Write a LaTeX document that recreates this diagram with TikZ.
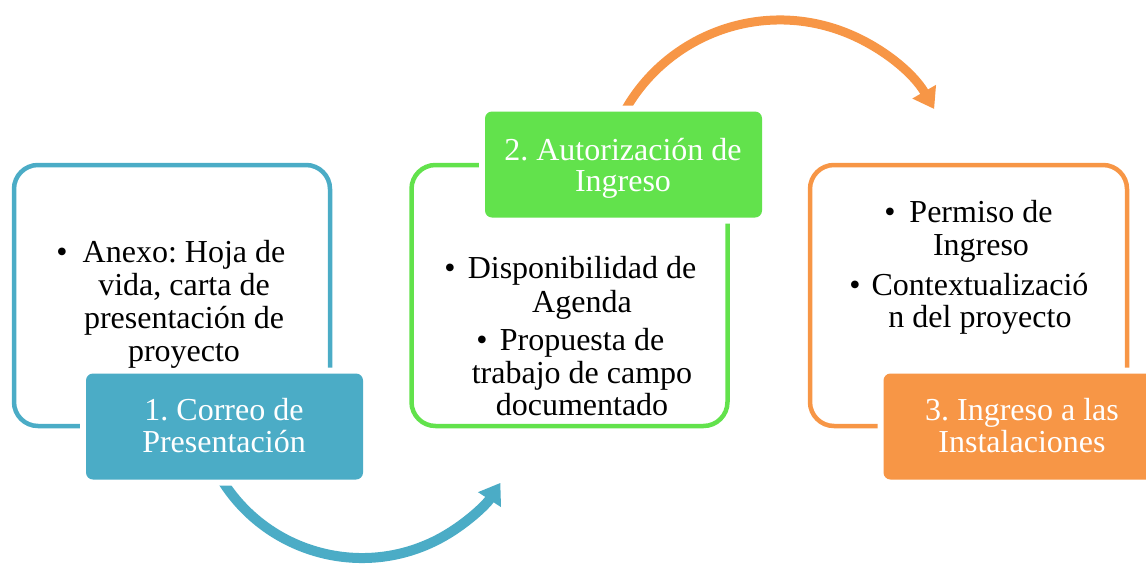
\documentclass[tikz,border=0pt]{standalone}
\usepackage{fontspec}
\setmainfont{Liberation Serif}
\usetikzlibrary{arrows.meta}
\definecolor{cblue}{HTML}{4BACC6}
\definecolor{cgreen}{HTML}{62E24C}
\definecolor{corange}{HTML}{F79646}
\frenchspacing
\begin{document}
\begin{tikzpicture}[x=1pt,y=-1pt,
  framebox/.style={line width=4.5pt, rounded corners=24pt, inner sep=0pt},
  steplabel/.style={fill=#1, preaction={draw=white,line width=12pt}, rounded corners=7pt,
    minimum width=277pt, minimum height=106pt, inner sep=0pt},
  txt/.style={anchor=base, inner sep=0pt, font=\fontsize{32}{33}\selectfont},
  wtxt/.style={txt, text=white},
  bul/.style={txt},
  curvearrow/.style={line width=#1, -{Triangle[length=20pt,width=26pt]}}
]
\useasboundingbox (0,0) rectangle (1146,563);

% frames
\node[framebox, draw=cblue, minimum width=316pt, minimum height=261pt] (f1) at (172,295.5) {};
\node[framebox, draw=cgreen, minimum width=316pt, minimum height=261pt] (f2) at (569.5,295.5) {};
\node[framebox, draw=corange, minimum width=317pt, minimum height=261pt] (f3) at (968.5,295.5) {};

% curved arrows
\draw[cblue, curvearrow=10pt] ([shift={(150:165)}]362,393) coordinate (a1s) arc[start angle=150, end angle=33, radius=165] coordinate (a1e);
\draw[corange, curvearrow=9pt] ([shift={(200:178)}]780,198) coordinate (a2s) arc[start angle=200, end angle=330, radius=178] coordinate (a2e);

% step labels
\node[steplabel=cblue] (l1) at (224.5,426.5) {};
\node[steplabel=cgreen] (l2) at (623.5,164.5) {};
\node[steplabel=corange] (l3) at (1022,426.5) {};

\node[wtxt] (l1a) at (224,420) {1. Correo de};
\node[wtxt] (l1b) at (224,452) {Presentación};
\node[wtxt] (l2a) at (623,160) {2. Autorización de};
\node[wtxt] (l2b) at (623,191) {Ingreso};
\node[wtxt] (l3a) at (1022,420) {3. Ingreso a las};
\node[wtxt] (l3b) at (1022,452) {Instalaciones};

% box 1 text
\node[bul] (b1) at (62,262) {\textbullet};
\node[txt] (t1a) at (184,262) {Anexo: Hoja de};
\node[txt] (t1b) at (184,295) {vida, carta de};
\node[txt] (t1c) at (184,328) {presentación de};
\node[txt] (t1d) at (184,361) {proyecto};

% box 2 text
\node[bul] (b2) at (450,278) {\textbullet};
\node[txt] (t2a) at (582,278) {Disponibilidad de};
\node[txt] (t2b) at (582,312) {Agenda};
\node[bul] (b3) at (482,350) {\textbullet};
\node[txt] (t2c) at (582,350) {Propuesta de};
\node[txt] (t2d) at (582,383) {trabajo de campo};
\node[txt] (t2e) at (582,415) {documentado};

% box 3 text
\node[bul] (b4) at (890,222) {\textbullet};
\node[txt] (t3a) at (981,222) {Permiso de};
\node[txt] (t3b) at (981,255) {Ingreso};
\node[bul] (b5) at (855,295) {\textbullet};
\node[txt] (t3c) at (980,295) {Contextualizació};
\node[txt] (t3d) at (980,327) {n del proyecto};
\end{tikzpicture}
\end{document}
